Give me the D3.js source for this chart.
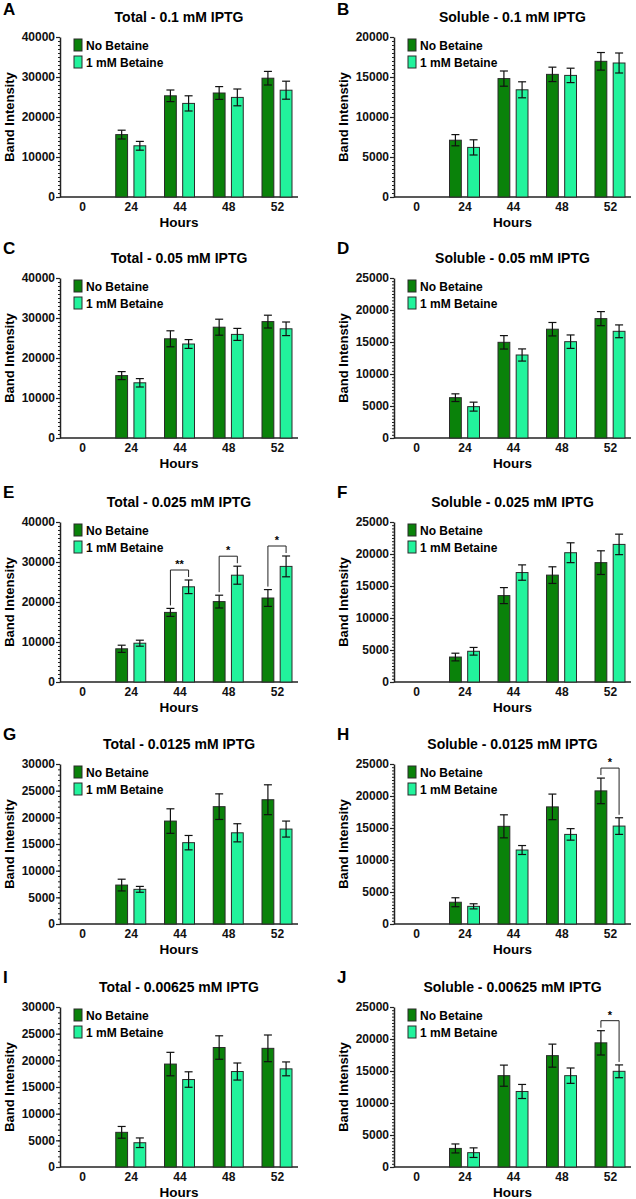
<!DOCTYPE html>
<html>
<head>
<meta charset="utf-8">
<script src="https://cdn.jsdelivr.net/npm/d3@7"></script>
<style>
  body { margin: 0; background: #fff; }
  svg { display: block; font-family: "Liberation Sans", Arial, sans-serif; font-weight: bold; }
</style>
</head>
<body>
<svg id="chart" width="636" height="1199"></svg>
<script>
// data (0 h has no bars)
const hours = ['0', '24', '44', '48', '52'];
const letters = ['A', 'B', 'C', 'D', 'E', 'F', 'G', 'H', 'I', 'J'];
const titles = [
  'Total - 0.1 mM IPTG', 'Soluble - 0.1 mM IPTG',
  'Total - 0.05 mM IPTG', 'Soluble - 0.05 mM IPTG',
  'Total - 0.025 mM IPTG', 'Soluble - 0.025 mM IPTG',
  'Total - 0.0125 mM IPTG', 'Soluble - 0.0125 mM IPTG',
  'Total - 0.00625 mM IPTG', 'Soluble - 0.00625 mM IPTG',
];
const yTitles = [
  'Band Intensity', 'Band Intenstiy',
  'Band Intensity', 'Band Intenstiy',
  'Band Intensity', 'Band Intensity',
  'Band Intensity', 'Band Intensity',
  'Band Intensity', 'Band Intensity',
];
const yMax = [40000, 20000, 40000, 25000, 40000, 25000, 30000, 25000, 30000, 25000];
const yMajor = [10000, 5000, 10000, 5000, 10000, 5000, 5000, 5000, 5000, 5000];
const yMinor = [1000, 500, 1000, 500, 1000, 500, 1000, 500, 1000, 500];
const seriesNames = ['No Betaine', '1 mM Betaine'];

const noBetaine = [
  [null, 15600, 25300, 26000, 29700],
  [null, 7100, 14800, 15330, 16960],
  [null, 15600, 24800, 27700, 29100],
  [null, 6300, 14950, 17000, 18650],
  [null, 8300, 17400, 20100, 21000],
  [null, 3900, 13500, 16700, 18650],
  [null, 7300, 19300, 22000, 23300],
  [null, 3400, 15260, 18300, 20800],
  [null, 6500, 19300, 22400, 22250],
  [null, 2900, 14270, 17400, 19400],
];
const noBetaineErr = [
  [null, 1100, 1450, 1600, 1700],
  [null, 700, 950, 900, 1100],
  [null, 1000, 2000, 2000, 1600],
  [null, 600, 1050, 1050, 1100],
  [null, 900, 1000, 1600, 2100],
  [null, 600, 1250, 1300, 1850],
  [null, 1100, 2300, 2400, 2800],
  [null, 700, 1800, 2000, 2000],
  [null, 1100, 2200, 2200, 2500],
  [null, 700, 1650, 1800, 1900],
];
const betaine = [
  [null, 12800, 23400, 24900, 26700],
  [null, 6200, 13400, 15200, 16750],
  [null, 13800, 23500, 25900, 27300],
  [null, 4900, 12970, 15050, 16670],
  [null, 9700, 23800, 26700, 28900],
  [null, 4800, 17100, 20200, 21500],
  [null, 6500, 15250, 17100, 17800],
  [null, 2760, 11560, 14000, 15300],
  [null, 4550, 16400, 17900, 18400],
  [null, 2240, 11800, 14270, 14950],
];
const betaineErr = [
  [null, 1100, 1900, 2100, 2250],
  [null, 950, 1000, 900, 1250],
  [null, 1050, 1100, 1500, 1700],
  [null, 700, 950, 1050, 1000],
  [null, 750, 1700, 2250, 2600],
  [null, 600, 1200, 1550, 1600],
  [null, 550, 1350, 1700, 1500],
  [null, 400, 700, 900, 1300],
  [null, 900, 1450, 1600, 1300],
  [null, 750, 1100, 1200, 1000],
];
// significance marks: panel index, hour, label
const sigPanel = [4, 4, 4, 7, 9];
const sigHour = ['44', '48', '52', '52', '52'];
const sigLabel = ['**', '*', '*', '*', '*'];

const colors = ['#0a820a', '#22f39c'];
const rowTops = [37, 278, 522, 764, 1007];
const colX = [[60, 298], [394, 631]];
const plotH = 160;

const svg = d3.select('#chart');

letters.forEach((letter, i) => {
  const col = i % 2;
  const top = rowTops[Math.floor(i / 2)];
  const x0 = colX[col][0];
  const x1 = colX[col][1];
  const bottom = top + plotH;

  const y = d3.scaleLinear()
      .domain([0, yMax[i]])
      .range([bottom, top]);
  const x = d3.scalePoint()
      .domain(hours)
      .range([x0 + 22, x1 - 21]);
  const sub = d3.scaleBand()
      .domain([0, 1])
      .range([-15, 15])
      .paddingInner(0.35);

  const g = svg.append('g');

  // panel letter + title
  g.append('text')
      .attr('x', x0 - 57)
      .attr('y', Math.max(top - 24, 15))
      .attr('font-size', 17)
      .text(letter);

  g.append('text')
      .attr('x', (x0 + x1) / 2)
      .attr('y', top - 15)
      .attr('text-anchor', 'middle')
      .attr('font-size', 14)
      .text(titles[i]);

  // minor ticks
  g.append('g')
      .attr('transform', `translate(${x0},0)`)
      .call(d3.axisLeft(y)
          .tickValues(d3.range(0, yMax[i] + 1, yMinor[i]))
          .tickSize(2)
          .tickFormat(''))
      .call((a) => a.select('.domain').remove())
      .selectAll('line')
      .attr('stroke', '#222');

  // major ticks + y axis line
  const yAxis = g.append('g')
      .attr('transform', `translate(${x0},0)`)
      .call(d3.axisLeft(y)
          .tickValues(d3.range(0, yMax[i] + 1, yMajor[i]))
          .tickSize(4)
          .tickSizeOuter(0)
          .tickPadding(1)
          .tickFormat(d3.format('d')));
  yAxis.select('.domain')
      .attr('stroke', '#222')
      .attr('stroke-width', 1.5);
  yAxis.selectAll('line')
      .attr('stroke', '#222')
      .attr('stroke-width', 1.2);
  yAxis.selectAll('text')
      .attr('font-size', 12)
      .attr('font-family', '"Liberation Sans", Arial, sans-serif')
      .attr('font-weight', 'bold')
      .attr('fill', '#111');

  // x axis
  const xAxis = g.append('g')
      .attr('transform', `translate(0,${bottom})`)
      .call(d3.axisBottom(x).tickSize(0).tickPadding(5.5));
  xAxis.select('.domain').remove();
  xAxis.selectAll('text')
      .attr('font-size', 12)
      .attr('font-family', '"Liberation Sans", Arial, sans-serif')
      .attr('font-weight', 'bold')
      .attr('fill', '#111');

  g.append('line')
      .attr('x1', x0)
      .attr('x2', x1)
      .attr('y1', bottom)
      .attr('y2', bottom)
      .attr('stroke', '#222')
      .attr('stroke-width', 1.5);

  // axis titles
  g.append('text')
      .attr('x', (x0 + x1) / 2)
      .attr('y', bottom + 29.5)
      .attr('text-anchor', 'middle')
      .attr('font-size', 13.5)
      .text('Hours');

  g.append('text')
      .attr('transform', `translate(${x0 - 46},${(top + bottom) / 2}) rotate(-90)`)
      .attr('text-anchor', 'middle')
      .attr('font-size', 13)
      .text(yTitles[i]);

  // bars + error bars
  const vals = [noBetaine[i], betaine[i]];
  const errs = [noBetaineErr[i], betaineErr[i]];
  const pts = [];
  hours.forEach((h, k) => {
    [0, 1].forEach((s) => {
      if (vals[s][k] !== null) {
        pts.push({h: h, s: s, v: vals[s][k], e: errs[s][k]});
      }
    });
  });

  g.selectAll('rect.bar')
      .data(pts)
      .enter()
      .append('rect')
      .attr('class', 'bar')
      .attr('x', (d) => x(d.h) + sub(d.s))
      .attr('width', sub.bandwidth())
      .attr('y', (d) => y(d.v))
      .attr('height', (d) => y(0) - y(d.v))
      .attr('fill', (d) => colors[d.s])
      .attr('stroke', '#2a2a2a')
      .attr('stroke-width', 1);

  const eb = g.selectAll('g.err')
      .data(pts)
      .enter()
      .append('g')
      .attr('class', 'err')
      .attr('stroke', '#111')
      .attr('stroke-width', 1.2);
  const cx = (d) => x(d.h) + sub(d.s) + sub.bandwidth() / 2;
  eb.append('line')
      .attr('x1', cx).attr('x2', cx)
      .attr('y1', (d) => y(d.v - d.e))
      .attr('y2', (d) => y(d.v + d.e));
  eb.append('line')
      .attr('x1', (d) => cx(d) - 4).attr('x2', (d) => cx(d) + 4)
      .attr('y1', (d) => y(d.v + d.e))
      .attr('y2', (d) => y(d.v + d.e));
  eb.append('line')
      .attr('x1', (d) => cx(d) - 4).attr('x2', (d) => cx(d) + 4)
      .attr('y1', (d) => y(d.v - d.e))
      .attr('y2', (d) => y(d.v - d.e));

  // significance brackets
  sigPanel.forEach((p, j) => {
    if (p !== i) return;
    const k = hours.indexOf(sigHour[j]);
    const tA = y(noBetaine[i][k] + noBetaineErr[i][k]);
    const tB = y(betaine[i][k] + betaineErr[i][k]);
    const xa = x(sigHour[j]) + sub(0) + sub.bandwidth() / 2;
    const xb = x(sigHour[j]) + sub(1) + sub.bandwidth() / 2;
    const yb = Math.min(tA, tB) - 10;
    g.append('path')
        .attr('d', `M${xa},${tA - 3}V${yb}H${xb}V${tB - 3}`)
        .attr('fill', 'none')
        .attr('stroke', '#222')
        .attr('stroke-width', 1);
    g.append('text')
        .attr('x', (xa + xb) / 2)
        .attr('y', yb - 2)
        .attr('text-anchor', 'middle')
        .attr('font-size', 11)
        .text(sigLabel[j]);
  });

  // legend
  const lg = g.append('g')
      .attr('transform', `translate(${x0 + 14},${top + 2})`);
  seriesNames.forEach((name, s) => {
    lg.append('rect')
        .attr('x', 0)
        .attr('y', s * 17)
        .attr('width', 8)
        .attr('height', 12)
        .attr('fill', colors[s])
        .attr('stroke', '#2a2a2a')
        .attr('stroke-width', 1);
    lg.append('text')
        .attr('x', 12)
        .attr('y', s * 17 + 11)
        .attr('font-size', 12)
        .text(name);
  });
});
</script>
</body>
</html>
